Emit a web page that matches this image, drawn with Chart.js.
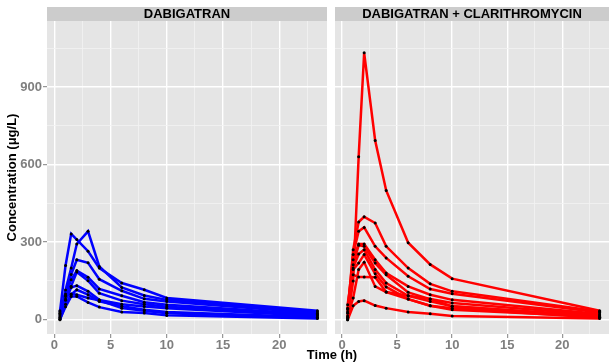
<!DOCTYPE html>
<html>
<head>
<meta charset="utf-8">
<script src="https://cdn.jsdelivr.net/npm/chart.js@4"></script>
<style>
    body { margin: 0; background: #ffffff; }
    #wrap { position: relative; width: 613px; height: 363px; font-family: 'Liberation Sans', Arial, sans-serif; }
    canvas { position: absolute; top: 0; }
    #xTitle {
        position: absolute; left: 232px; width: 200px; top: 348px;
        text-align: center; font-weight: bold; font-size: 13px; line-height: 13px; color: #000;
    }
</style>
</head>
<body>
<div id="wrap">
    <canvas id="leftPanel" width="331" height="363" style="left:0"></canvas>
    <canvas id="rightPanel" width="282" height="363" style="left:331px"></canvas>
    <div id="xTitle">Time (h)</div>
</div>
<script>
// sampling times (h) shared by every subject
const sampleTimes = [0.5, 1, 1.5, 2, 3, 4, 6, 8, 10, 23.4];

// concentration profiles (µg/L), one row per subject
const dabigatranAlone = [
    [30, 210, 332, 310, 265, 200, 142, 116, 84, 35],
    [15, 115, 200, 293, 342, 206, 125, 94, 77, 30],
    [20, 100, 175, 232, 220, 157, 112, 81, 71, 25],
    [10, 95, 155, 190, 164, 119, 93, 68, 58, 20],
    [25, 80, 130, 185, 151, 103, 74, 60, 50, 18],
    [5, 75, 125, 132, 110, 77, 60, 51, 45, 15],
    [0, 60, 97, 116, 97, 71, 52, 39, 30, 10],
    [35, 90, 100, 97, 84, 75, 45, 35, 25, 8],
    [2, 50, 90, 90, 67, 49, 30, 26, 17, 5],
];

const dabigatranClarithro = [
    [0, 150, 630, 1032, 693, 500, 298, 214, 159, 35],
    [25, 271, 378, 398, 374, 284, 200, 139, 110, 32],
    [40, 252, 342, 357, 284, 239, 168, 119, 101, 28],
    [10, 232, 293, 293, 232, 181, 129, 97, 77, 22],
    [58, 213, 288, 284, 219, 174, 106, 80, 65, 18],
    [30, 200, 254, 271, 194, 142, 93, 71, 52, 15],
    [5, 194, 219, 252, 178, 127, 80, 54, 39, 12],
    [45, 174, 165, 165, 164, 107, 93, 80, 52, 10],
    [15, 84, 194, 222, 129, 107, 80, 54, 45, 8],
    [0, 54, 71, 74, 55, 45, 30, 23, 15, 5],
];

const xMajorTicks = [0, 5, 10, 15, 20];
const xMinorTicks = [2.5, 7.5, 12.5, 17.5, 22.5];
const yMajorTicks = [0, 300, 600, 900];
const yMinorTicks = [150, 450, 750, 1050];
const panelTitles = ['DABIGATRAN', 'DABIGATRAN + CLARITHROMYCIN'];

const FONT = "'Liberation Sans', Arial, sans-serif";
const TICK_GREY = '#7f7f7f';

// panel background + facet strip, drawn before the scales
const facetPlugin = {
    id: 'facet',
    beforeDraw(chart, args, opts) {
        const { ctx, chartArea } = chart;
        ctx.save();
        ctx.fillStyle = '#e5e5e5';
        ctx.fillRect(chartArea.left, chartArea.top, chartArea.right - chartArea.left, chartArea.bottom - chartArea.top);
        ctx.fillStyle = '#cccccc';
        ctx.fillRect(chartArea.left, 7, chartArea.right - chartArea.left, chartArea.top - 7);
        ctx.fillStyle = '#000000';
        ctx.font = 'bold 13px ' + FONT;
        ctx.textAlign = 'center';
        ctx.textBaseline = 'middle';
        ctx.fillText(opts.text, (chartArea.left + chartArea.right) / 2, 14.5);
        ctx.restore();
    }
};

function sortedTicks(major, minor) {
    return major.concat(minor).sort((a, b) => a - b).map((v) => ({ value: v }));
}

function buildDatasets(profiles, color) {
    const lines = profiles.map((row) => ({
        data: sampleTimes.map((t, i) => ({ x: t, y: row[i] })),
        borderColor: color,
        borderWidth: 2.5,
        pointRadius: 0,
        order: 2,
    }));
    const points = profiles.map((row) => ({
        data: sampleTimes.map((t, i) => ({ x: t, y: row[i] })),
        showLine: false,
        pointRadius: 1.5,
        pointBackgroundColor: '#000000',
        pointBorderWidth: 0,
        order: 1,
    }));
    return lines.concat(points);
}

function gridStyle(major) {
    return {
        color: (c) => (major.includes(c.tick.value) ? '#ffffff' : '#f2f2f2'),
        lineWidth: (c) => (major.includes(c.tick.value) ? 1.4 : 0.8),
        tickColor: (c) => (major.includes(c.tick.value) ? TICK_GREY : 'rgba(0,0,0,0)'),
        tickLength: 4,
        tickWidth: 1,
    };
}

function makePanel(canvasId, profiles, color, title, showY) {
    const yScale = {
        type: 'linear',
        min: -55,
        max: 1155,
        border: { display: false },
        grid: Object.assign(gridStyle(yMajorTicks), { drawTicks: showY }),
        afterBuildTicks: (s) => { s.ticks = sortedTicks(yMajorTicks, yMinorTicks); },
        afterFit: (s) => { s.width = showY ? 47 : 2; },
        ticks: {
            display: showY,
            padding: 1,
            color: TICK_GREY,
            font: { family: FONT, size: 13, weight: 'bold' },
            callback: (v) => (yMajorTicks.includes(v) ? String(v) : ''),
        },
        title: {
            display: showY,
            text: 'Concentration (μg/L)',
            color: '#000000',
            font: { family: FONT, size: 13, weight: 'bold' },
            padding: { top: 5, bottom: 0 },
        },
    };

    return new Chart(document.getElementById(canvasId), {
        type: 'line',
        data: { datasets: buildDatasets(profiles, color) },
        plugins: [facetPlugin],
        options: {
            responsive: false,
            animation: false,
            devicePixelRatio: 1,
            layout: { padding: { top: 21, right: showY ? 2 : 0, bottom: 0, left: 0 } },
            plugins: {
                legend: { display: false },
                tooltip: { enabled: false },
                facet: { text: title },
            },
            scales: {
                x: {
                    type: 'linear',
                    min: -0.65,
                    max: 24.25,
                    border: { display: false },
                    grid: gridStyle(xMajorTicks),
                    afterBuildTicks: (s) => { s.ticks = sortedTicks(xMajorTicks, xMinorTicks); },
                    afterFit: (s) => { s.height = 29; },
                    ticks: {
                        padding: 0,
                        maxRotation: 0,
                        color: TICK_GREY,
                        font: { family: FONT, size: 13, weight: 'bold' },
                        callback: (v) => (xMajorTicks.includes(v) ? String(v) : ''),
                    },
                },
                y: yScale,
            },
        },
    });
}

makePanel('leftPanel', dabigatranAlone, '#0000ff', panelTitles[0], true);
makePanel('rightPanel', dabigatranClarithro, '#ff0000', panelTitles[1], false);
</script>
</body>
</html>
